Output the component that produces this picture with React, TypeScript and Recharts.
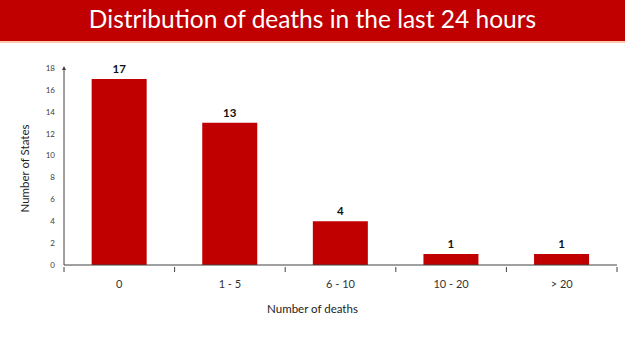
import React from "react";
import { BarChart, Bar, XAxis, YAxis, LabelList, Label } from "recharts";

const categories = ["0", "1 - 5", "6 - 10", "10 - 20", "> 20"];
const states = [17, 13, 4, 1, 1];
const yTicks = [0, 2, 4, 6, 8, 10, 12, 14, 16, 18];

const data = categories.map((name, i) => ({ name, states: states[i] }));

const RED = "#C00000";
const FONT = "Lato, 'Open Sans', sans-serif";

// category tick: label under the band centre, tick marks on the band edges
const CategoryTick = (props: any) => {
  const { x, y, payload, index } = props;
  const half = payload && typeof payload.offset === "number" ? payload.offset : 0;
  const last = index === categories.length - 1;
  return (
    <g>
      {half > 0 && (
        <line x1={x - half} y1={y} x2={x - half} y2={y + 5} stroke="#404040" />
      )}
      {half > 0 && last && (
        <line x1={x + half} y1={y} x2={x + half} y2={y + 5} stroke="#404040" />
      )}
      <text
        x={x}
        y={y + 13}
        dy="0.71em"
        textAnchor="middle"
        fontSize={11}
        fill="#333"
        fontFamily={FONT}
      >
        {payload.value}
      </text>
    </g>
  );
};

export default function App() {
  return (
    <div
      style={{
        position: "absolute",
        left: 0,
        top: 0,
        width: 625,
        height: 351,
        background: "#fff",
        fontFamily: FONT,
      }}
    >
      <div
        style={{
          position: "absolute",
          left: 0,
          top: 0,
          width: 625,
          height: 41,
          background: RED,
          borderBottom: "2px solid #F8CBAD",
          color: "#fff",
          fontSize: 24.5,
          lineHeight: "38px",
          textAlign: "center",
        }}
      >
        Distribution of deaths in the last 24 hours
      </div>
      <BarChart
        width={625}
        height={351}
        data={data}
        margin={{ top: 68, right: 8, bottom: 56, left: 24 }}
        barCategoryGap="25%"
        style={{ position: "absolute", left: 0, top: 0 }}
      >
        <defs>
          <marker
            id="arrow"
            viewBox="0 0 10 10"
            refX="5"
            refY="5"
            markerWidth="4"
            markerHeight="5"
            orient="auto-start-reverse"
          >
            <path d="M0,0 L10,5 L0,10 z" fill="#404040" />
          </marker>
        </defs>
        <XAxis
          dataKey="name"
          axisLine={{ stroke: "#404040" }}
          tickLine={false}
          tickSize={0}
          tick={<CategoryTick />}
          interval={0}
          height={30}
        >
          <Label
            value="Number of deaths"
            position="bottom"
            offset={10}
            dx={-28}
            style={{ fontSize: 11.5, fill: "#222", fontFamily: FONT }}
          />
        </XAxis>
        <YAxis
          domain={[0, 18]}
          ticks={yTicks}
          interval={0}
          width={40}
          axisLine={{ stroke: "#404040", markerStart: "url(#arrow)" }}
          tickLine={false}
          tickSize={0}
          tickMargin={9}
          tick={{ fontSize: 8, fill: "#404040", fontFamily: FONT }}
        >
          <Label
            value="Number of States"
            angle={-90}
            position="insideLeft"
            offset={1}
            dy={2}
            style={{ textAnchor: "middle", fontSize: 11.5, fill: "#222", fontFamily: FONT }}
          />
        </YAxis>
        <Bar dataKey="states" fill={RED} isAnimationActive={false}>
          <LabelList
            dataKey="states"
            position="top"
            offset={6}
            style={{ fontSize: 11.5, fontWeight: 700, fill: "#111", fontFamily: FONT }}
          />
        </Bar>
      </BarChart>
    </div>
  );
}
